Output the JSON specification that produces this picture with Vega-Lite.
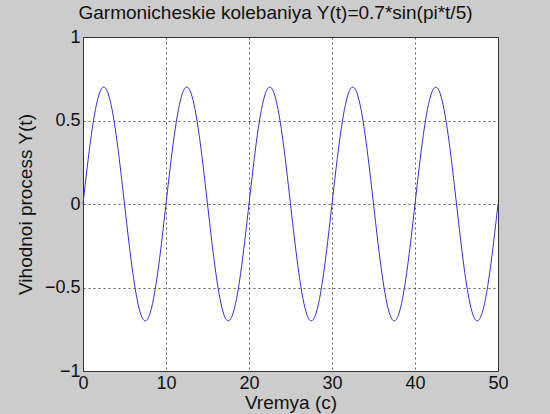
{
  "$schema": "https://vega.github.io/schema/vega-lite/v6.json",
  "width": 415,
  "height": 334,
  "autosize": {"type": "none"},
  "padding": {"left": 83, "top": 37, "right": 52, "bottom": 43},
  "background": "#cccccc",
  "title": {
    "text": "Garmonicheskie kolebaniya Y(t)=0.7*sin(pi*t/5)",
    "font": "Liberation Sans",
    "fontSize": 19,
    "fontWeight": "normal",
    "color": "#111111",
    "anchor": "middle",
    "dx": -15,
    "offset": 5
  },
  "data": {
    "values": [
      {"t":0,"y":0},{"t":0.5,"y":0.2163},{"t":1,"y":0.4114},{"t":1.5,"y":0.5663},{"t":2,"y":0.6657},{"t":2.5,"y":0.7},{"t":3,"y":0.6657},{"t":3.5,"y":0.5663},{"t":4,"y":0.4114},{"t":4.5,"y":0.2163},
      {"t":5,"y":0},{"t":5.5,"y":-0.2163},{"t":6,"y":-0.4114},{"t":6.5,"y":-0.5663},{"t":7,"y":-0.6657},{"t":7.5,"y":-0.7},{"t":8,"y":-0.6657},{"t":8.5,"y":-0.5663},{"t":9,"y":-0.4114},{"t":9.5,"y":-0.2163},
      {"t":10,"y":0},{"t":10.5,"y":0.2163},{"t":11,"y":0.4114},{"t":11.5,"y":0.5663},{"t":12,"y":0.6657},{"t":12.5,"y":0.7},{"t":13,"y":0.6657},{"t":13.5,"y":0.5663},{"t":14,"y":0.4114},{"t":14.5,"y":0.2163},
      {"t":15,"y":0},{"t":15.5,"y":-0.2163},{"t":16,"y":-0.4114},{"t":16.5,"y":-0.5663},{"t":17,"y":-0.6657},{"t":17.5,"y":-0.7},{"t":18,"y":-0.6657},{"t":18.5,"y":-0.5663},{"t":19,"y":-0.4114},{"t":19.5,"y":-0.2163},
      {"t":20,"y":0},{"t":20.5,"y":0.2163},{"t":21,"y":0.4114},{"t":21.5,"y":0.5663},{"t":22,"y":0.6657},{"t":22.5,"y":0.7},{"t":23,"y":0.6657},{"t":23.5,"y":0.5663},{"t":24,"y":0.4114},{"t":24.5,"y":0.2163},
      {"t":25,"y":0},{"t":25.5,"y":-0.2163},{"t":26,"y":-0.4114},{"t":26.5,"y":-0.5663},{"t":27,"y":-0.6657},{"t":27.5,"y":-0.7},{"t":28,"y":-0.6657},{"t":28.5,"y":-0.5663},{"t":29,"y":-0.4114},{"t":29.5,"y":-0.2163},
      {"t":30,"y":0},{"t":30.5,"y":0.2163},{"t":31,"y":0.4114},{"t":31.5,"y":0.5663},{"t":32,"y":0.6657},{"t":32.5,"y":0.7},{"t":33,"y":0.6657},{"t":33.5,"y":0.5663},{"t":34,"y":0.4114},{"t":34.5,"y":0.2163},
      {"t":35,"y":0},{"t":35.5,"y":-0.2163},{"t":36,"y":-0.4114},{"t":36.5,"y":-0.5663},{"t":37,"y":-0.6657},{"t":37.5,"y":-0.7},{"t":38,"y":-0.6657},{"t":38.5,"y":-0.5663},{"t":39,"y":-0.4114},{"t":39.5,"y":-0.2163},
      {"t":40,"y":0},{"t":40.5,"y":0.2163},{"t":41,"y":0.4114},{"t":41.5,"y":0.5663},{"t":42,"y":0.6657},{"t":42.5,"y":0.7},{"t":43,"y":0.6657},{"t":43.5,"y":0.5663},{"t":44,"y":0.4114},{"t":44.5,"y":0.2163},
      {"t":45,"y":0},{"t":45.5,"y":-0.2163},{"t":46,"y":-0.4114},{"t":46.5,"y":-0.5663},{"t":47,"y":-0.6657},{"t":47.5,"y":-0.7},{"t":48,"y":-0.6657},{"t":48.5,"y":-0.5663},{"t":49,"y":-0.4114},{"t":49.5,"y":-0.2163},
      {"t":50,"y":0}
    ]
  },
  "mark": {"type": "line", "color": "#3333dd", "strokeWidth": 1, "interpolate": "natural"},
  "encoding": {
    "x": {
      "field": "t", "type": "quantitative",
      "scale": {"domain": [0, 50], "nice": false, "zero": false},
      "axis": {"values": [0, 10, 20, 30, 40, 50], "format": "d", "title": "Vremya (c)", "titlePadding": 1, "labelPadding": 3}
    },
    "y": {
      "field": "y", "type": "quantitative",
      "scale": {"domain": [-1, 1], "nice": false},
      "axis": {"values": [-1, -0.5, 0, 0.5, 1], "format": "~g", "title": "Vihodnoi process Y(t)", "titlePadding": 9, "labelPadding": 3}
    }
  },
  "config": {
    "view": {"stroke": "#333333", "strokeWidth": 1, "fill": "#ffffff"},
    "axis": {
      "domain": false,
      "ticks": false,
      "grid": true,
      "gridColor": "#333333",
      "gridDash": [2, 3],
      "gridWidth": 1,
      "gridOpacity": 0.8,
      "labelFont": "Liberation Sans",
      "labelFontSize": 18,
      "labelColor": "#111111",
      "titleFont": "Liberation Sans",
      "titleFontSize": 19,
      "titleFontWeight": "normal",
      "titleColor": "#111111",
      "labelFlush": false,
      "labelOverlap": false
    }
  }
}
